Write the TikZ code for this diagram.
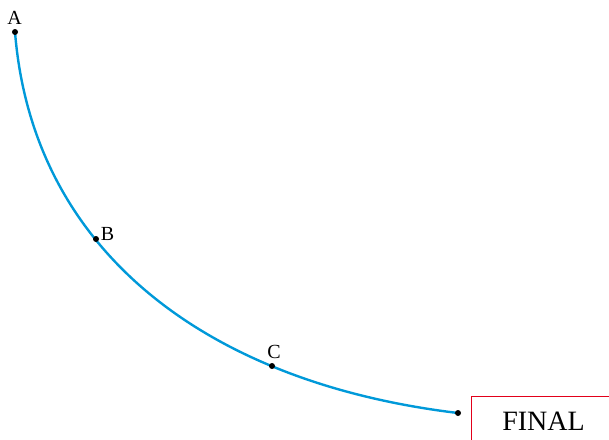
\documentclass[tikz,border=0pt]{standalone}
\usepackage{fontspec}
\setmainfont{Liberation Serif}
\definecolor{curveblue}{RGB}{0,153,217}
\definecolor{boxred}{RGB}{226,0,26}
\begin{document}
\begin{tikzpicture}[x=1pt,y=-1pt,
  dot/.style={circle,fill=black,inner sep=0pt,minimum size=6pt},
  lbl/.style={inner sep=0pt,font=\fontsize{20}{24}\selectfont},
  curve/.style={draw=curveblue,line width=2.4pt}]
\useasboundingbox (0,0) rectangle (609,439);
\begin{scope}
\clip (0,0) rectangle (609,439);
\draw[boxred,line width=1pt] (471,396) rectangle (640,470);
\end{scope}
\node[lbl,font=\fontsize{28}{32}\selectfont] (final) at (543.5,421.5) {FINAL};
\coordinate (A) at (15,32);
\coordinate (B) at (96,239);
\coordinate (C) at (272,366);
\coordinate (D) at (458,413);
\path[curve] (A) .. controls (32.6,252) and (208,383) .. (D);
\node[dot] (dA) at (A) {};
\node[dot] (dB) at (B) {};
\node[dot] (dC) at (C) {};
\node[dot] (dD) at (D) {};
\node[lbl] (lA) at (14.5,18) {A};
\node[lbl] (lB) at (107.5,233.5) {B};
\node[lbl] (lC) at (274,352) {C};
\end{tikzpicture}
\end{document}
